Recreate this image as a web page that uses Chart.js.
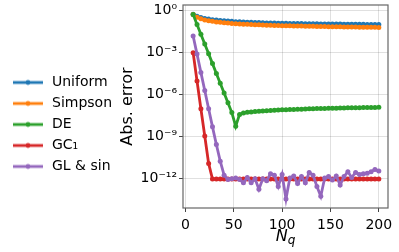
<!DOCTYPE html>
<html>
<head>
<meta charset="utf-8">
<script src="https://cdn.jsdelivr.net/npm/chart.js@4.4.0/dist/chart.umd.min.js"></script>
<style>
  html, body { margin: 0; padding: 0; background: #fff; }
  #wrap { width: 399px; height: 252px; }
</style>
</head>
<body>
<div id="wrap"><canvas id="error_chart"></canvas></div>
<script>
const nq = [8, 12, 16, 20, 24, 28, 32, 36, 40, 44, 48, 52, 56, 60, 64, 68, 72, 76, 80, 84,
  88, 92, 96, 100, 104, 108, 112, 116, 120, 124, 128, 132, 136, 140, 144, 148, 152, 156, 160, 164,
  168, 172, 176, 180, 184, 188, 192, 196, 200];

const uniform = [0.501, 0.355, 0.288, 0.251, 0.224, 0.204, 0.191, 0.178, 0.170, 0.162,
  0.155, 0.148, 0.145, 0.140, 0.135, 0.132, 0.129, 0.126, 0.123, 0.120,
  0.119, 0.117, 0.115, 0.1135, 0.112, 0.111, 0.1096, 0.108, 0.107, 0.106,
  0.105, 0.104, 0.103, 0.102, 0.1016, 0.1009, 0.100, 0.0993, 0.0986, 0.0979,
  0.0973, 0.0966, 0.0959, 0.0953, 0.0946, 0.0940, 0.0933, 0.0927, 0.0920];

const simpson = [0.47, 0.30, 0.235, 0.197, 0.172, 0.155, 0.142, 0.132, 0.124, 0.117,
  0.111, 0.106, 0.102, 0.098, 0.095, 0.092, 0.089, 0.087, 0.085, 0.083,
  0.081, 0.079, 0.078, 0.076, 0.075, 0.074, 0.073, 0.072, 0.071, 0.070,
  0.069, 0.068, 0.067, 0.066, 0.0655, 0.065, 0.064, 0.0635, 0.063, 0.0622,
  0.0615, 0.061, 0.0603, 0.0597, 0.059, 0.0585, 0.058, 0.0575, 0.057];

const de = [0.47, 0.093, 0.0186, 3.7e-3, 7.4e-4, 1.48e-4, 2.95e-5, 5.9e-6, 1.17e-6, 2.34e-7,
  4.7e-8, 5.0e-9, 3.5e-8, 4.4e-8, 4.9e-8, 5.25e-8, 5.6e-8, 5.9e-8, 6.2e-8, 6.45e-8,
  6.7e-8, 6.9e-8, 7.2e-8, 7.4e-8, 7.6e-8, 7.8e-8, 7.95e-8, 8.1e-8, 8.3e-8, 8.5e-8,
  8.7e-8, 8.9e-8, 9.1e-8, 9.2e-8, 9.3e-8, 9.5e-8, 9.7e-8, 9.8e-8, 1.0e-7, 1.01e-7,
  1.03e-7, 1.04e-7, 1.05e-7, 1.06e-7, 1.07e-7, 1.08e-7, 1.09e-7, 1.10e-7, 1.11e-7];

const gc1 = [8.9e-4, 8.5e-6, 8.9e-8, 1.0e-9, 1.1e-11, 8.5e-13, 8.5e-13, 8.4e-13, 8.5e-13, 8.5e-13,
  8.6e-13, 8.5e-13, 8.5e-13, 8.4e-13, 8.5e-13, 8.5e-13, 8.5e-13, 8.6e-13, 8.5e-13, 8.5e-13,
  8.5e-13, 8.4e-13, 8.5e-13, 8.5e-13, 8.5e-13, 8.5e-13, 8.6e-13, 8.5e-13, 8.5e-13, 8.5e-13,
  8.4e-13, 8.5e-13, 8.5e-13, 8.5e-13, 8.5e-13, 8.6e-13, 8.5e-13, 8.5e-13, 8.5e-13, 8.4e-13,
  8.5e-13, 8.5e-13, 8.5e-13, 8.5e-13, 8.6e-13, 8.5e-13, 8.5e-13, 8.5e-13, 8.5e-13];

const glSin = [1.38e-2, 7.1e-4, 3.5e-5, 1.78e-6, 8.9e-8, 4.5e-9, 2.5e-10, 1.6e-11, 1.6e-12, 7.9e-13,
  8.9e-13, 1.0e-12, 7.9e-13, 4.5e-13, 1.1e-12, 4.5e-13, 8.9e-13, 1.6e-13, 8.9e-13, 6.3e-13,
  2.0e-12, 1.6e-12, 2.5e-13, 1.8e-12, 3.2e-14, 1.0e-12, 1.4e-12, 4.0e-13, 1.26e-12, 4.5e-13,
  2.5e-12, 1.6e-12, 2.5e-13, 5.0e-14, 1.0e-12, 1.26e-12, 7.1e-13, 1.4e-12, 3.2e-13, 1.26e-12,
  2.8e-12, 1.1e-12, 2.5e-12, 1.8e-12, 2.0e-12, 2.2e-12, 2.8e-12, 4.0e-12, 3.2e-12];

const seriesNames = ["Uniform", "Simpson", "DE", "GC₁", "GL & sin"];
const seriesColors = ["#1f77b4", "#ff7f0e", "#2ca02c", "#d62728", "#9467bd"];

const xTicks = [0, 50, 100, 150, 200];
const yTicks = [1e-12, 1e-9, 1e-6, 1e-3, 1];
const yTickLabels = ["10⁻¹²", "10⁻⁹", "10⁻⁶", "10⁻³", "10⁰"];

Chart.defaults.font.family = "'DejaVu Sans', sans-serif";
Chart.defaults.color = "#000";

// little line + dot icon for the legend, like matplotlib's
function legendIcon(color) {
  const c = document.createElement("canvas");
  c.width = 30;
  c.height = 8;
  const g = c.getContext("2d");
  g.strokeStyle = color;
  g.lineWidth = 2.8;
  g.beginPath();
  g.moveTo(0, 4);
  g.lineTo(30, 4);
  g.stroke();
  g.fillStyle = color;
  g.beginPath();
  g.arc(15, 4, 2.4, 0, Math.PI * 2);
  g.fill();
  return c;
}
const legendIcons = seriesColors.map(legendIcon);

const allValues = [uniform, simpson, de, gc1, glSin];

const datasets = allValues.map((vals, i) => ({
  label: seriesNames[i],
  data: nq.map((n, j) => ({x: n, y: vals[j]})),
  borderColor: seriesColors[i],
  backgroundColor: seriesColors[i],
  pointBackgroundColor: seriesColors[i],
  borderWidth: 2.8,
  pointRadius: 2.5,
  pointBorderWidth: 0,
  order: allValues.length - i
}));

const LEFT_EDGE = 183;
const PAD_LEFT = 4;

const framePlugin = {
  id: "frame",
  afterDraw(chart) {
    const {ctx, chartArea: a} = chart;
    ctx.save();
    ctx.strokeStyle = "#666";
    ctx.lineWidth = 1.2;
    ctx.strokeRect(a.left, a.top, a.right - a.left, a.bottom - a.top);

    // x axis title N_q
    const cx = (a.left + a.right) / 2;
    ctx.fillStyle = "#000";
    ctx.textBaseline = "alphabetic";
    ctx.textAlign = "left";
    ctx.font = "italic 16px 'DejaVu Sans'";
    const wN = ctx.measureText("N").width;
    ctx.font = "italic 12px 'DejaVu Sans'";
    const wq = ctx.measureText("q").width;
    const x0 = cx - (wN + wq) / 2;
    ctx.font = "italic 16px 'DejaVu Sans'";
    ctx.fillText("N", x0, 241);
    ctx.font = "italic 12px 'DejaVu Sans'";
    ctx.fillText("q", x0 + wN, 243.5);
    ctx.restore();
  }
};

const config = {
  type: "line",
  data: {datasets: datasets},
  options: {
    animation: false,
    responsive: true,
    maintainAspectRatio: false,
    layout: {
      padding: {left: PAD_LEFT, right: 11, top: 5, bottom: 8}
    },
    elements: {
      line: {tension: 0}
    },
    scales: {
      x: {
        type: "linear",
        min: -2.5,
        max: 209.5,
        afterBuildTicks(s) {
          s.ticks = xTicks.map(v => ({value: v}));
        },
        afterFit(s) {
          s.height = 36;
          s.paddingLeft = 0;
          s.paddingRight = 0;
        },
        ticks: {
          font: {size: 14},
          padding: 5,
          maxRotation: 0
        },
        grid: {
          color: "rgba(0,0,0,0.12)",
          tickColor: "#444",
          tickLength: 4
        },
        border: {display: false}
      },
      y: {
        type: "logarithmic",
        min: 7.2e-15,
        max: 2.28,
        afterBuildTicks(s) {
          s.ticks = yTicks.map(v => ({value: v}));
        },
        afterFit(s) {
          s.width = LEFT_EDGE - s.chart.legend.width - PAD_LEFT;
          s.paddingTop = 0;
          s.paddingBottom = 0;
        },
        ticks: {
          font: {size: 14},
          padding: 2,
          callback(value) {
            const k = yTicks.indexOf(value);
            return k >= 0 ? yTickLabels[k] : "";
          }
        },
        grid: {
          color: "rgba(0,0,0,0.12)",
          tickColor: "#444",
          tickLength: 4
        },
        border: {display: false},
        title: {
          display: true,
          text: "Abs. error",
          font: {size: 16},
          padding: {top: -4, bottom: 0}
        }
      }
    },
    plugins: {
      legend: {
        position: "left",
        maxWidth: 140,
        labels: {
          usePointStyle: true,
          pointStyleWidth: 34,
          boxHeight: 8,
          padding: 7,
          font: {size: 14},
          color: "#000",
          sort: (a, b) => a.datasetIndex - b.datasetIndex,
          generateLabels(chart) {
            const items = Chart.defaults.plugins.legend.labels.generateLabels(chart);
            items.forEach(it => { it.pointStyle = legendIcons[it.datasetIndex]; });
            return items;
          }
        }
      },
      tooltip: {enabled: false}
    }
  },
  plugins: [framePlugin]
};

new Chart(document.getElementById("error_chart"), config);
</script>
</body>
</html>
